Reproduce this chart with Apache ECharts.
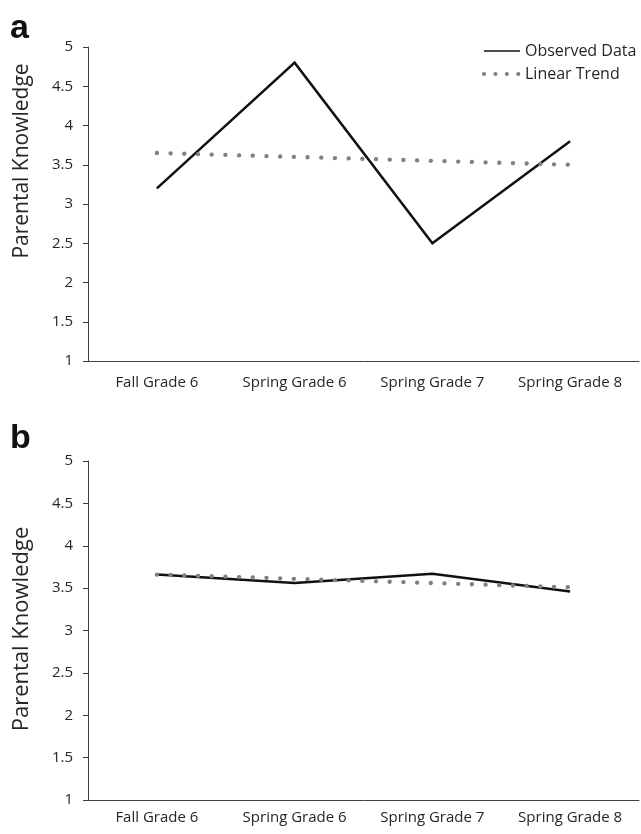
<!DOCTYPE html>
<html>
<head>
<meta charset="utf-8">
<script src="https://cdn.jsdelivr.net/npm/echarts@6/dist/echarts.min.js"></script>
<style>
html,body{margin:0;padding:0;background:#fff;}
#chart{width:641px;height:834px;}
</style>
</head>
<body>
<div id="chart"></div>
<script>
const categories = ['Fall Grade 6', 'Spring Grade 6', 'Spring Grade 7', 'Spring Grade 8'];
const observedA = [3.2, 4.8, 2.5, 3.8];
const trendA = [3.65, 3.60, 3.55, 3.50];
const observedB = [3.66, 3.56, 3.67, 3.46];
const trendB = [3.66, 3.61, 3.56, 3.51];
const yAxisTitle = 'Parental Knowledge';
const panelLabels = ['a', 'b'];
const seriesNames = ['Observed Data', 'Linear Trend'];

const FONT = 'Open Sans';
const AXIS_COLOR = '#404040';
const TEXT_COLOR = '#262626';
const OBS_COLOR = '#111111';
const TREND_COLOR = '#808080';

function xAxisFor(gridIndex, margin) {
  return {
    type: 'category', gridIndex: gridIndex, data: categories, boundaryGap: true,
    axisLine: { show: true, lineStyle: { color: AXIS_COLOR, width: 1 } },
    axisTick: { show: false },
    axisLabel: { color: TEXT_COLOR, fontSize: 15, fontFamily: FONT, margin: margin, interval: 0 },
    splitLine: { show: false }
  };
}
function yAxisFor(gridIndex) {
  return {
    type: 'value', gridIndex: gridIndex, min: 1, max: 5, interval: 0.5,
    axisLine: { show: true, lineStyle: { color: AXIS_COLOR, width: 1 } },
    axisTick: { show: true, inside: false, length: 5, lineStyle: { color: AXIS_COLOR } },
    axisLabel: { color: TEXT_COLOR, fontSize: 15, fontFamily: FONT, margin: 15 },
    splitLine: { show: false }
  };
}
function obsSeries(idx, data) {
  return {
    name: seriesNames[0], type: 'line', xAxisIndex: idx, yAxisIndex: idx, data: data,
    symbol: 'none', silent: true, z: 2,
    lineStyle: { color: OBS_COLOR, width: 2.5, join: 'miter' },
    itemStyle: { color: OBS_COLOR }
  };
}
function trendSeries(idx, data) {
  return {
    name: seriesNames[1], type: 'line', xAxisIndex: idx, yAxisIndex: idx, data: data,
    symbol: 'none', silent: true, z: 3,
    lineStyle: { color: TREND_COLOR, width: 4.3, type: [0.1, 13.6], cap: 'round' },
    itemStyle: { color: TREND_COLOR }
  };
}

const hiddenSymbol = { color: 'rgba(0,0,0,0)', borderWidth: 0, opacity: 0 };

const chart = echarts.init(document.getElementById('chart'), null, { renderer: 'canvas' });
chart.setOption({
  animation: false,
  backgroundColor: '#ffffff',
  textStyle: { fontFamily: FONT },
  grid: [
    { left: 88, right: 2, top: 47, bottom: 473 },
    { left: 88, right: 2, top: 461, bottom: 34 }
  ],
  xAxis: [xAxisFor(0, 14), xAxisFor(1, 10)],
  yAxis: [yAxisFor(0), yAxisFor(1)],
  legend: {
    orient: 'vertical', left: 482, top: 43, padding: 0,
    itemWidth: 36, itemHeight: 14, itemGap: 7,
    selectedMode: false,
    textStyle: { color: TEXT_COLOR, fontSize: 16, fontFamily: FONT, lineHeight: 16 },
    data: [
      { name: seriesNames[0], itemStyle: hiddenSymbol, lineStyle: { width: 1.6, color: OBS_COLOR } },
      { name: seriesNames[1], itemStyle: hiddenSymbol, lineStyle: { width: 4, type: [0.1, 11.3], cap: 'round', color: TREND_COLOR } }
    ]
  },
  graphic: [
    { type: 'text', left: 10, top: 12, style: { text: panelLabels[0], font: 'bold 34px "Liberation Sans"', fill: '#111' } },
    { type: 'text', left: 10, top: 422, style: { text: panelLabels[1], font: 'bold 34px "Liberation Sans"', fill: '#111' } },
    { type: 'text', x: 22, y: 161, rotation: Math.PI / 2,
      style: { text: yAxisTitle, font: '21px "Open Sans"', fill: TEXT_COLOR, align: 'center', verticalAlign: 'middle' } },
    { type: 'text', x: 22, y: 629, rotation: Math.PI / 2,
      style: { text: yAxisTitle, font: '22px "Open Sans"', fill: TEXT_COLOR, align: 'center', verticalAlign: 'middle' } }
  ],
  series: [
    obsSeries(0, observedA), trendSeries(0, trendA),
    obsSeries(1, observedB), trendSeries(1, trendB)
  ]
});
</script>
</body>
</html>
